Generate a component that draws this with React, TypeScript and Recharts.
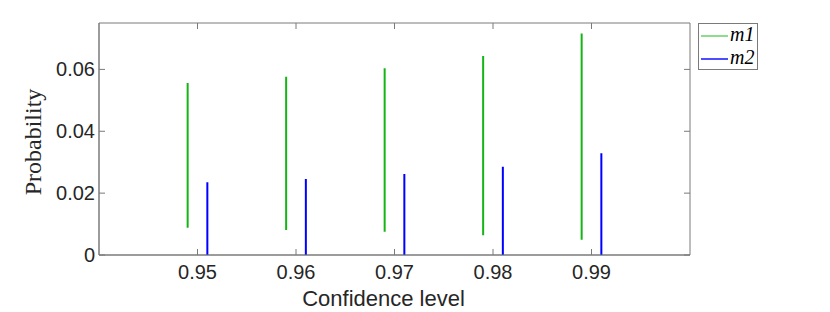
import { Line, LineChart, XAxis, YAxis, ReferenceArea } from "recharts";

const confidence = [0.95, 0.96, 0.97, 0.98, 0.99];
const m1X = [0.949, 0.959, 0.969, 0.979, 0.989];
const m1Low = [0.0088, 0.0081, 0.0075, 0.0064, 0.0049];
const m1High = [0.0556, 0.0576, 0.0604, 0.0643, 0.0716];
const m2X = [0.951, 0.961, 0.971, 0.981, 0.991];
const m2Low = [0, 0, 0, 0, 0];
const m2High = [0.0235, 0.0246, 0.0262, 0.0285, 0.0329];
const yTicks = [0, 0.02, 0.04, 0.06];

// vertical segments separated by null points so the line breaks between them
const segments = (xs: number[], lo: number[], hi: number[]) =>
  xs.flatMap((x, i) => [
    { x, y: lo[i] },
    { x, y: hi[i] },
    { x: x + 0.0005, y: null },
  ]);

const m1Data = segments(m1X, m1Low, m1High);
const m2Data = segments(m2X, m2Low, m2High);

const W = 830;
const H = 312;
const TOP = 23;
const LEFT = 99;
const RIGHT = 690;
const BOTTOM = 255;
const AXIS = "#7a7a7a";
const TEXT = "#262626";
const SANS = "'Liberation Sans', Arial, sans-serif";
const SERIF = "'Liberation Serif', 'Times New Roman', serif";

const XTick = ({ x, payload }: any) => (
  <g>
    <line x1={x} x2={x} y1={BOTTOM} y2={BOTTOM - 6} stroke={AXIS} />
    <line x1={x} x2={x} y1={TOP} y2={TOP + 6} stroke={AXIS} />
    <text x={x} y={279} textAnchor="middle" fill={TEXT} fontSize={20} fontFamily={SANS}>
      {payload.value}
    </text>
  </g>
);

const YTick = ({ y, payload }: any) => (
  <g>
    <line x1={LEFT} x2={LEFT + 6} y1={y} y2={y} stroke={AXIS} />
    <line x1={RIGHT} x2={RIGHT - 6} y1={y} y2={y} stroke={AXIS} />
    <text x={95} y={y} dy="0.35em" textAnchor="end" fill={TEXT} fontSize={20} fontFamily={SANS}>
      {payload.value}
    </text>
  </g>
);

const legendItems = [
  { name: "m1", color: "#8edc8e", top: 11 },
  { name: "m2", color: "#4d4dff", top: 34 },
];

const LegendBox = () => (
  <div
    style={{
      position: "absolute",
      left: 698,
      top: TOP,
      width: 60,
      height: 47,
      border: `1px solid ${AXIS}`,
      background: "#fff",
      boxSizing: "border-box",
      fontFamily: SERIF,
      fontStyle: "italic",
      fontSize: 20,
      color: "#000",
    }}
  >
    {legendItems.map((s) => (
      <div key={s.name}>
        <div
          style={{ position: "absolute", left: 2, top: s.top, width: 27, height: 1.5, background: s.color }}
        />
        <div style={{ position: "absolute", left: 31, top: s.top - 12, lineHeight: "22px" }}>{s.name}</div>
      </div>
    ))}
  </div>
);

export default function App() {
  return (
    <div style={{ position: "absolute", left: 0, top: 0, width: W, height: H, background: "#fff" }}>
      <LineChart
        width={W}
        height={H}
        margin={{ top: TOP, right: W - RIGHT, left: LEFT - 60, bottom: 0 }}
      >
        <XAxis
          type="number"
          dataKey="x"
          domain={[0.94, 1.0]}
          ticks={confidence}
          allowDataOverflow
          height={H - BOTTOM}
          axisLine={{ stroke: AXIS }}
          tickLine={false}
          tick={<XTick />}
          label={{
            value: "Confidence level",
            position: "insideBottom",
            offset: 6,
            dx: -11,
            fill: TEXT,
            fontSize: 22,
            fontFamily: SANS,
          }}
        />
        <YAxis
          type="number"
          domain={[0, 0.075]}
          ticks={yTicks}
          allowDataOverflow
          width={60}
          axisLine={{ stroke: AXIS }}
          tickLine={false}
          tick={<YTick />}
          label={({ viewBox }: any) => (
            <text
              x={41}
              y={viewBox.y + viewBox.height / 2 + 3}
              transform={`rotate(-90 41 ${viewBox.y + viewBox.height / 2 + 3})`}
              textAnchor="middle"
              fill={TEXT}
              fontSize={24}
              fontFamily={SERIF}
            >
              Probability
            </text>
          )}
        />
        <ReferenceArea x1={0.94} x2={1.0} y1={0} y2={0.075} fill="none" stroke={AXIS} strokeWidth={1} />
        <Line
          data={m1Data}
          dataKey="y"
          name="m1"
          stroke="#14b414"
          strokeWidth={2}
          dot={false}
          connectNulls={false}
          isAnimationActive={false}
        />
        <Line
          data={m2Data}
          dataKey="y"
          name="m2"
          stroke="#0000ff"
          strokeWidth={2}
          dot={false}
          connectNulls={false}
          isAnimationActive={false}
        />
      </LineChart>
      <LegendBox />
    </div>
  );
}
